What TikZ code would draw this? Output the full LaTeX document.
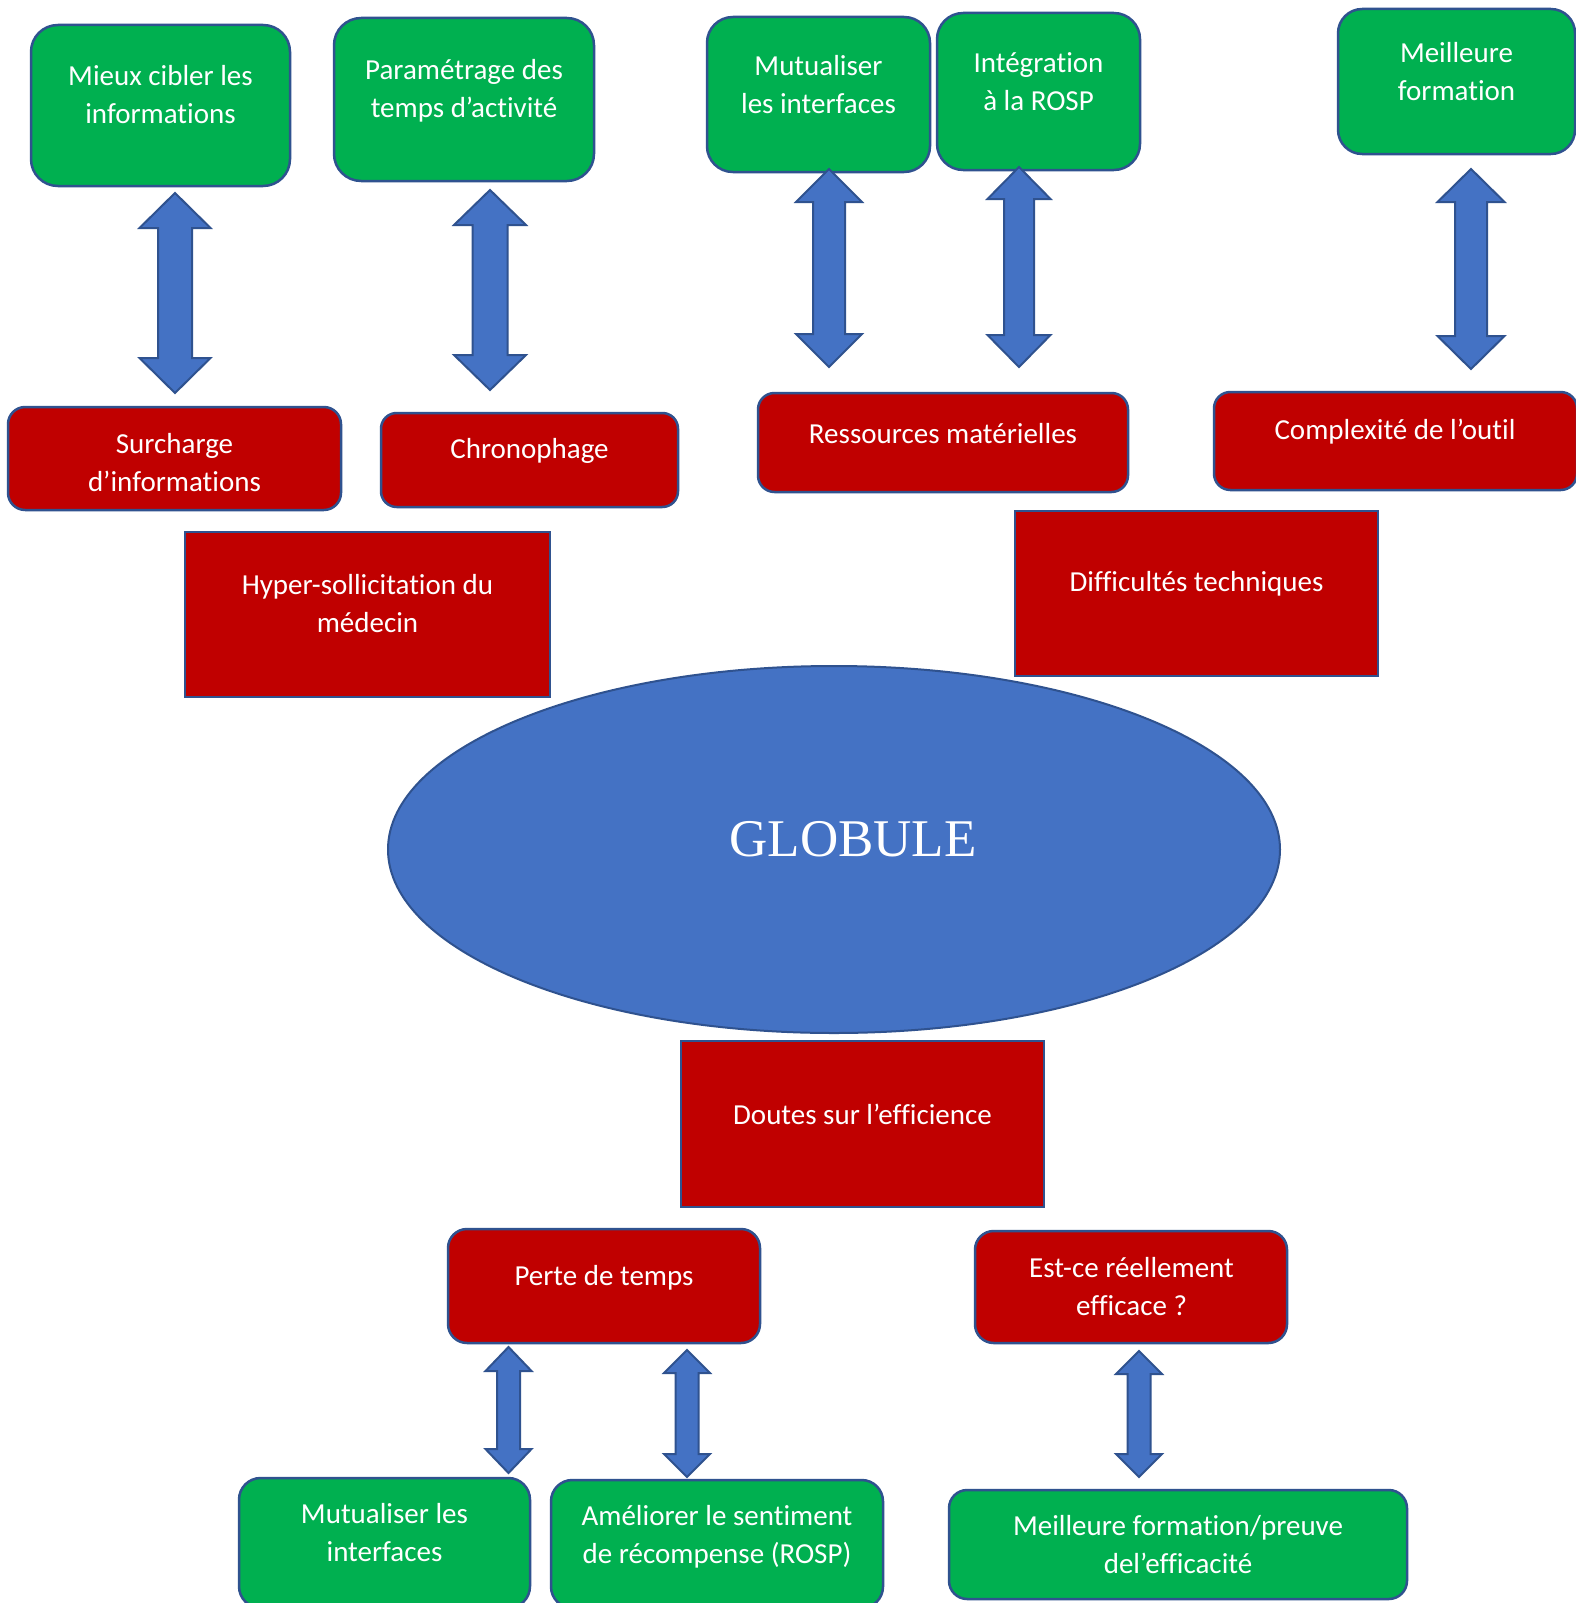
\documentclass[tikz,border=0pt]{standalone}
\usepackage{fontspec}
\setmainfont{Carlito}[Ligatures={NoCommon}]
\newfontfamily\globfont{Liberation Serif}
\definecolor{vert}{HTML}{00B050}
\definecolor{rouge}{HTML}{C00000}
\definecolor{bleu}{HTML}{4472C4}
\definecolor{bord}{HTML}{2F528F}
\tikzset{
  greenbox/.style={draw=bord, line width=2.5pt, fill=vert, inner sep=0pt},
  redbox/.style={draw=bord, line width=2.5pt, fill=rouge, inner sep=0pt},
  redrect/.style={draw=bord, line width=2pt, fill=rouge, inner sep=0pt},
  txt/.style={text=white, align=center, font=\fontsize{29}{38}\selectfont, inner sep=0pt},
  arrowsty/.style={draw=bord, line width=2pt, fill=bleu, line join=miter}
}
\newcommand\mybox[6]{%
  \pgfmathsetmacro\bw{#5-#3}\pgfmathsetmacro\bh{#6-#4}%
  \pgfmathsetmacro\rr{0.1667*min(\bw,\bh)}%
  \node[#2, minimum width=\bw pt, minimum height=\bh pt, rounded corners=\rr pt] (#1) at ({(#3+#5)/2},{(#4+#6)/2}) {};}
\newcommand\myrect[6]{%
  \pgfmathsetmacro\bw{#5-#3}\pgfmathsetmacro\bh{#6-#4}%
  \node[#2, minimum width=\bw pt, minimum height=\bh pt] (#1) at ({(#3+#5)/2},{(#4+#6)/2}) {};}
\newcommand\dblarrow[6]{%
  \draw[arrowsty] (#1,#2) -- (#1+#4,#2+#6) -- (#1+#5,#2+#6) -- (#1+#5,#3-#6) -- (#1+#4,#3-#6) -- (#1,#3)
    -- (#1-#4,#3-#6) -- (#1-#5,#3-#6) -- (#1-#5,#2+#6) -- (#1-#4,#2+#6) -- cycle;}
\begin{document}
\begin{tikzpicture}[x=1pt,y=-1pt]
\useasboundingbox (0,0) rectangle (1576,1603);
\fill[white] (0,0) rectangle (1576,1603);

% top green boxes
\mybox{g1}{greenbox}{31}{25}{290}{186}
\mybox{g2}{greenbox}{334}{18}{594}{181}
\mybox{g3}{greenbox}{707}{17}{930}{172}
\mybox{g4}{greenbox}{937}{13}{1140}{170}
\mybox{g5}{greenbox}{1338}{9}{1575}{154}
\node[txt] (g1t) at (160.5,94.5) {Mieux cibler les\\informations};
\node[txt] (g2t) at (464,91) {Paramétrage des\\temps d’activité};
\node[txt] (g3t) at (818.5,84.5) {Mutualiser\\les interfaces};
\node[txt] (g4t) at (1038.5,81.5) {Intégration\\à la ROSP};
\node[txt] (g5t) at (1456.5,72) {Meilleure\\formation};

% top arrows
\dblarrow{175}{193}{393}{35.5}{17}{35}
\dblarrow{490}{190}{390}{36}{17.5}{35}
\dblarrow{829}{169}{367}{33}{16}{33}
\dblarrow{1019}{167}{367}{31.5}{15}{32}
\dblarrow{1471}{169}{369}{33.5}{16}{33}

% red rounded boxes
\mybox{r1}{redbox}{8}{407}{341}{510}
\mybox{r2}{redbox}{381}{413}{678}{507}
\mybox{r3}{redbox}{758}{393}{1128}{492}
\mybox{r4}{redbox}{1214}{392}{1577}{490}
\node[txt] (r1t) at (174.5,462.5) {Surcharge\\d’informations};
\node[txt] (r2t) at (529.5,451) {Chronophage};
\node[txt] (r3t) at (943,433.5) {Ressources matérielles};
\node[txt] (r4t) at (1395,432) {Complexité de l’outil};

% red rectangles
\myrect{h}{redrect}{185}{532}{550}{697}
\myrect{d}{redrect}{1015}{511}{1378}{676}
\node[txt] (ht) at (367.5,603.5) {Hyper-sollicitation du\\médecin};
\node[txt] (dt) at (1196.5,584) {Difficultés techniques};

% ellipse
\draw[draw=bord, line width=2pt, fill=bleu] (834,849.5) ellipse [x radius=446, y radius=183.5];
\node[text=white, inner sep=0pt, font=\globfont\fontsize{53}{60}\selectfont] (glob) at (853,839) {GLOBULE};

\myrect{doutes}{redrect}{681}{1041}{1044}{1207}
\node[txt] (doutest) at (862.5,1114) {Doutes sur l’efficience};

% bottom red boxes
\mybox{p}{redbox}{448}{1229}{760}{1343}
\mybox{e}{redbox}{975}{1231}{1287}{1343}
\node[txt] (pt) at (604,1278) {Perte de temps};
\node[txt] (et) at (1131.5,1287) {Est-ce réellement\\efficace ?};

% bottom arrows
\dblarrow{508.5}{1347}{1473}{23}{11.5}{24}
\dblarrow{687}{1350}{1477}{23}{11.5}{23}
\dblarrow{1139}{1351}{1477}{23}{11.5}{23}

% bottom green boxes
\mybox{b1}{greenbox}{239}{1478}{530}{1608}
\mybox{b2}{greenbox}{551}{1480}{883}{1608}
\mybox{b3}{greenbox}{949}{1490}{1407}{1599}
\node[txt] (b1t) at (384.5,1533) {Mutualiser les\\interfaces};
\node[txt] (b2t) at (717,1536.5) {Améliorer le sentiment\\de récompense (ROSP)};
\node[txt] (b3t) at (1178,1545) {Meilleure formation/preuve\\del’efficacité};
\end{tikzpicture}
\end{document}
